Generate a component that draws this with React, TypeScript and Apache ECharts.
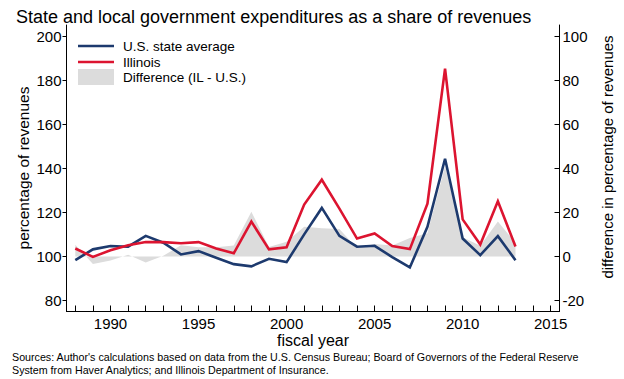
import React, { useEffect, useRef } from "react";
import * as echarts from "echarts";

const years = [1988, 1989, 1990, 1991, 1992, 1993, 1994, 1995, 1996, 1997, 1998, 1999, 2000, 2001, 2002, 2003, 2004, 2005, 2006, 2007, 2008, 2009, 2010, 2011, 2012, 2013];
const usAverage = [98.3, 103.2, 104.7, 104.4, 109.3, 106.2, 100.9, 102.4, 99.4, 96.5, 95.5, 98.9, 97.4, 110.0, 122.0, 109.3, 104.4, 104.8, 99.7, 95.0, 113.4, 144.3, 108.1, 100.6, 109.2, 98.3];
const illinois = [103.6, 99.8, 102.8, 105.1, 106.5, 106.5, 106.0, 106.5, 103.6, 101.4, 115.8, 103.2, 104.1, 123.5, 134.8, 121.7, 108.1, 110.4, 104.7, 103.3, 123.9, 185.2, 116.8, 105.4, 125.0, 104.5];
const difference = [5.3, -3.4, -1.9, 0.7, -2.8, 0.3, 5.1, 4.1, 4.2, 4.9, 20.3, 4.3, 6.7, 13.5, 12.8, 12.4, 3.7, 5.6, 5.0, 8.3, 10.5, 40.9, 8.7, 4.8, 15.8, 6.2];

const leftTicks = [80, 100, 120, 140, 160, 180, 200];
const rightTicks = [-20, 0, 20, 40, 60, 80, 100];
const xTickYears = [1988, 1989, 1990, 1991, 1992, 1993, 1994, 1995, 1996, 1997, 1998, 1999, 2000, 2001, 2002, 2003, 2004, 2005, 2006, 2007, 2008, 2009, 2010, 2011, 2012, 2013, 2014, 2015];
const xLabelYears = [1990, 1995, 2000, 2005, 2010, 2015];

const titleText = "State and local government expenditures as a share of revenues";
const leftName = "percentage of revenues";
const rightName = "difference in percentage of revenues";
const xName = "fiscal year";
const legendNames = ["U.S. state average", "Illinois", "Difference (IL - U.S.)"];
const sourceText =
  "Sources: Author's calculations based on data from the U.S. Census Bureau; Board of Governors of the Federal Reserve\nSystem from Haver Analytics; and Illinois Department of Insurance.";

const FONT = "'Liberation Sans', Arial, sans-serif";
const BLUE = "#1d3a6e";
const RED = "#dc1430";
const GRAY = "#dcdcdc";

export default function App() {
  const ref = useRef<HTMLDivElement>(null);

  useEffect(() => {
    if (!ref.current) return;
    const chart = echarts.init(ref.current, null, { renderer: "svg" });
    const pair = (arr: number[]) => years.map((y, i) => [y, arr[i]]);
    const axisLine = { show: true, onZero: false, lineStyle: { color: "#000", width: 1 } };
    const labelStyle = { color: "#000", fontSize: 15, fontFamily: FONT };

    chart.setOption({
      animation: false,
      backgroundColor: "#fff",
      textStyle: { fontFamily: FONT },
      title: {
        text: titleText,
        left: 11,
        top: 3,
        textStyle: { fontSize: 18, fontWeight: "normal", color: "#000", fontFamily: FONT },
      },
      grid: { left: 66.5, right: 64.5, top: 25, bottom: 67.5, containLabel: false },
      xAxis: {
        type: "value",
        min: 1987.5,
        max: 2015.5,
        axisLine,
        splitLine: { show: false },
        axisTick: { show: true, inside: true, length: 6, customValues: xTickYears, lineStyle: { color: "#000" } },
        axisLabel: { ...labelStyle, margin: 4, customValues: xLabelYears, formatter: (v: number) => String(v) },
      },
      yAxis: [
        {
          type: "value",
          position: "left",
          min: 75,
          max: 205,
          axisLine,
          splitLine: { show: false },
          axisTick: { show: true, inside: false, length: 4, customValues: leftTicks, lineStyle: { color: "#000" } },
          axisLabel: { ...labelStyle, margin: 5, customValues: leftTicks, formatter: (v: number) => String(v) },
        },
        {
          type: "value",
          position: "right",
          min: -25,
          max: 105,
          axisLine,
          splitLine: { show: false },
          axisTick: { show: true, inside: true, length: 5, customValues: rightTicks, lineStyle: { color: "#000" } },
          axisLabel: { ...labelStyle, margin: 3, customValues: rightTicks, formatter: (v: number) => String(v) },
        },
      ],
      series: [
        {
          name: legendNames[2],
          type: "line",
          yAxisIndex: 1,
          data: pair(difference),
          symbol: "none",
          lineStyle: { width: 0, color: GRAY },
          areaStyle: { color: GRAY, opacity: 1, origin: 0 },
          z: 1,
        },
        {
          name: legendNames[0],
          type: "line",
          yAxisIndex: 0,
          data: pair(usAverage),
          symbol: "none",
          lineStyle: { width: 2.6, color: BLUE, join: "miter" },
          z: 3,
        },
        {
          name: legendNames[1],
          type: "line",
          yAxisIndex: 0,
          data: pair(illinois),
          symbol: "none",
          lineStyle: { width: 2.6, color: RED, join: "miter" },
          z: 4,
        },
      ],
      graphic: [
        { type: "line", shape: { x1: 78, y1: 46, x2: 114, y2: 46 }, style: { stroke: BLUE, lineWidth: 2.6 }, z: 10 },
        { type: "line", shape: { x1: 78, y1: 62, x2: 114, y2: 62 }, style: { stroke: RED, lineWidth: 2.6 }, z: 10 },
        { type: "rect", shape: { x: 78, y: 69, width: 36, height: 16 }, style: { fill: GRAY }, z: 10 },
        { type: "text", x: 123, y: 46, style: { text: legendNames[0], fontSize: 13.5, fontFamily: FONT, fill: "#000", verticalAlign: "middle" }, z: 10 },
        { type: "text", x: 123, y: 62, style: { text: legendNames[1], fontSize: 13.5, fontFamily: FONT, fill: "#000", verticalAlign: "middle" }, z: 10 },
        { type: "text", x: 123, y: 77.5, style: { text: legendNames[2], fontSize: 13.5, fontFamily: FONT, fill: "#000", verticalAlign: "middle" }, z: 10 },
        {
          type: "text",
          x: 23,
          y: 168,
          rotation: Math.PI / 2,
          style: { text: leftName, fontSize: 15.5, fontFamily: FONT, fill: "#000", align: "center", verticalAlign: "middle" },
        },
        {
          type: "text",
          x: 607,
          y: 157,
          rotation: Math.PI / 2,
          style: { text: rightName, fontSize: 15, fontFamily: FONT, fill: "#000", align: "center", verticalAlign: "middle" },
        },
        {
          type: "text",
          x: 313,
          y: 340,
          style: { text: xName, fontSize: 16, fontFamily: FONT, fill: "#000", align: "center", verticalAlign: "middle" },
        },
        {
          type: "text",
          x: 12,
          y: 350,
          style: { text: sourceText, fontSize: 10.7, lineHeight: 13, fontFamily: FONT, fill: "#000" },
        },
      ],
    });

    return () => chart.dispose();
  }, []);

  return <div ref={ref} style={{ position: "absolute", left: 0, top: 0, width: 624, height: 379 }} />;
}
